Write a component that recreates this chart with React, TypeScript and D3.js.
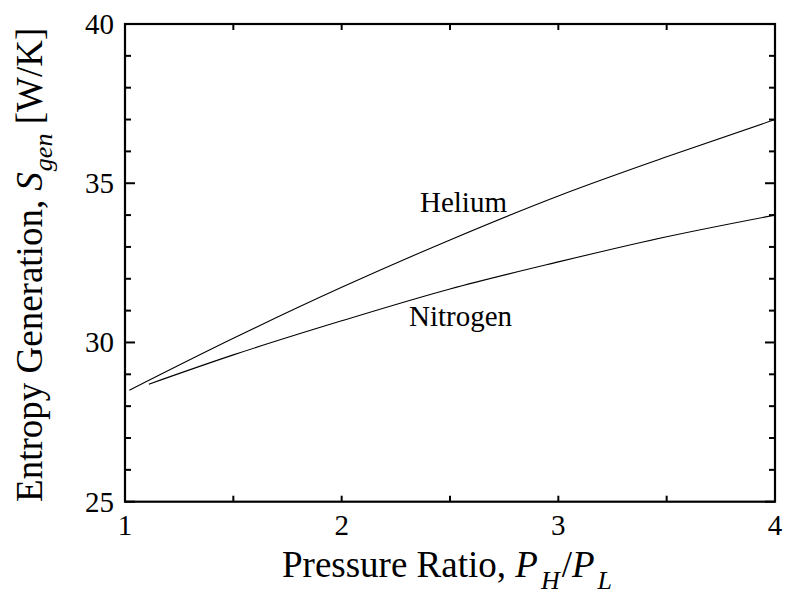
import React from "react";
import * as d3 from "d3";

const heliumX = [1.02, 1.5, 2.0, 2.5, 3.0, 3.5, 4.0];
const heliumY = [28.5, 30.13, 31.73, 33.22, 34.6, 35.83, 37.0];
const nitrogenX = [1.11, 1.5, 2.0, 2.5, 3.0, 3.5, 4.0];
const nitrogenY = [28.69, 29.61, 30.68, 31.68, 32.53, 33.32, 34.0];
const xMajor = [1, 2, 3, 4];
const xMinor = [1.5, 2.5, 3.5];
const yMajor = [25, 30, 35, 40];
const yMinor = [26, 27, 28, 29, 31, 32, 33, 34, 36, 37, 38, 39];

const W = 805;
const H = 598;
const L = 125, R = 775, T = 24, B = 501.7;
const FONT = "Liberation Serif, Tinos, Times New Roman, Times, DejaVu Serif, serif";

export default function App() {
  const x = d3.scaleLinear().domain([1, 4]).range([L, R]);
  const y = d3.scaleLinear().domain([25, 40]).range([B, T]);
  const line = d3
    .line<[number, number]>()
    .x((d) => x(d[0]))
    .y((d) => y(d[1]))
    .curve(d3.curveMonotoneX);
  const he = heliumX.map((v, i) => [v, heliumY[i]] as [number, number]);
  const ni = nitrogenX.map((v, i) => [v, nitrogenY[i]] as [number, number]);

  return (
    <svg
      width={W}
      height={H}
      style={{ position: "absolute", left: 0, top: 0, background: "#fff", fontFamily: FONT }}
    >
      <rect x={0} y={0} width={W} height={H} fill="#fff" />
      {/* curves */}
      <path d={line(he) || ""} fill="none" stroke="#000" strokeWidth={1.1} />
      <path d={line(ni) || ""} fill="none" stroke="#000" strokeWidth={1.1} />
      {/* frame */}
      <rect x={L} y={T} width={R - L} height={B - T} fill="none" stroke="#000" strokeWidth={2.2} />
      {/* x ticks */}
      {[...xMajor, ...xMinor].map((v) => (
        <g key={"xt" + v}>
          <line x1={x(v)} x2={x(v)} y1={B} y2={B - 6} stroke="#000" strokeWidth={2} />
          <line x1={x(v)} x2={x(v)} y1={T} y2={T + 6} stroke="#000" strokeWidth={2} />
        </g>
      ))}
      {/* y ticks */}
      {yMajor.map((v) => (
        <g key={"yM" + v}>
          <line x1={L} x2={L + 10} y1={y(v)} y2={y(v)} stroke="#000" strokeWidth={2} />
          <line x1={R} x2={R - 10} y1={y(v)} y2={y(v)} stroke="#000" strokeWidth={2} />
        </g>
      ))}
      {yMinor.map((v) => (
        <g key={"ym" + v}>
          <line x1={L} x2={L + 6} y1={y(v)} y2={y(v)} stroke="#000" strokeWidth={2} />
          <line x1={R} x2={R - 6} y1={y(v)} y2={y(v)} stroke="#000" strokeWidth={2} />
        </g>
      ))}
      {/* tick labels */}
      {xMajor.map((v) => (
        <text key={"xl" + v} x={x(v)} y={535} fontSize={29} textAnchor="middle" fill="#000">
          {v}
        </text>
      ))}
      {yMajor.map((v) => (
        <text key={"yl" + v} x={114} y={y(v) + 10} fontSize={29} textAnchor="end" fill="#000">
          {v}
        </text>
      ))}
      {/* series labels */}
      <text x={420} y={212} fontSize={29} fill="#000">Helium</text>
      <text x={409} y={326} fontSize={29} fill="#000">Nitrogen</text>
      {/* x axis title */}
      <text x={282} y={577} fontSize={37} fill="#000">
        <tspan>Pressure Ratio, </tspan>
        <tspan fontStyle="italic">P</tspan>
        <tspan fontStyle="italic" fontSize={26} dy={12} dx={3}>H</tspan>
        <tspan dy={-12} dx={2}>/</tspan>
        <tspan fontStyle="italic">P</tspan>
        <tspan fontStyle="italic" fontSize={26} dy={12} dx={3}>L</tspan>
      </text>
      {/* y axis title */}
      <text
        transform={`translate(42, ${(T + B) / 2 + 2}) rotate(-90)`}
        fontSize={37}
        textAnchor="middle"
        fill="#000"
      >
        <tspan>Entropy Generation, </tspan>
        <tspan fontStyle="italic">S</tspan>
        <tspan fontStyle="italic" fontSize={26} dy={10} dx={1}>gen</tspan>
        <tspan dy={-10}> [W/K]</tspan>
      </text>
    </svg>
  );
}
